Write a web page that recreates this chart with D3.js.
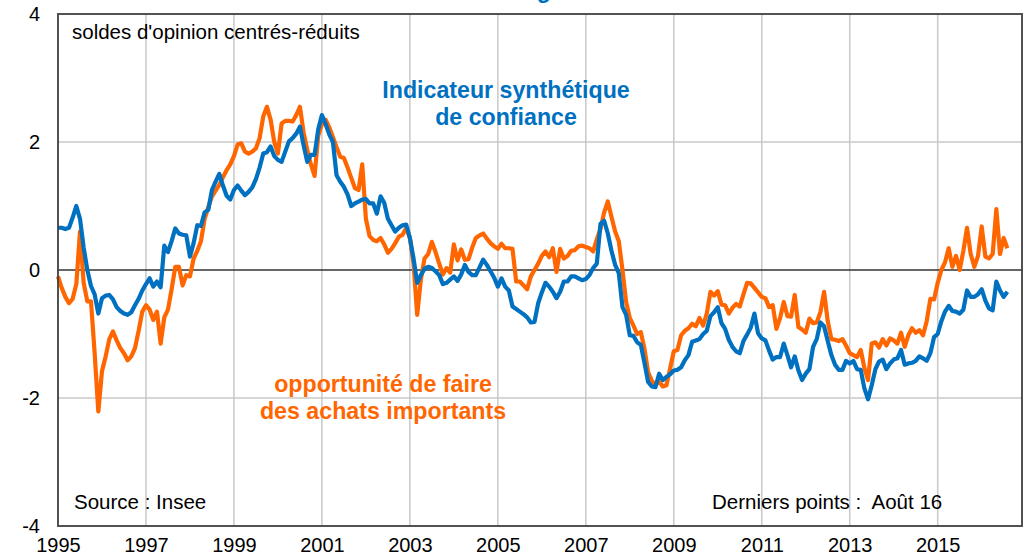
<!DOCTYPE html>
<html><head><meta charset="utf-8">
<script src="https://cdn.jsdelivr.net/npm/d3@7"></script>
<style>
body{margin:0;background:#fff;}
svg text{font-family:"Liberation Sans",Arial,sans-serif;}
</style>
</head><body>
<svg id="chart" width="1033" height="557"></svg>
<script>
// ---- categories ----
const firstYear = 1995, firstMonthIndex = 0;   // janvier 1995
const xTickYears = [1995,1997,1999,2001,2003,2005,2007,2009,2011,2013,2015];
const xGridYears = [1997,1999,2001,2003,2005,2007,2009,2011,2013,2015];
const yTicks = [-4,-2,0,2,4];
const yGrid = [-2,2];

// ---- series (monthly, Jan 1995 - Aug 2016) ----
const confiance = [
0.66,0.66,0.64,0.66,0.82,1.00,0.80,0.35,0.00,-0.25,
-0.38,-0.68,-0.44,-0.40,-0.39,-0.46,-0.58,-0.64,-0.68,-0.70,
-0.66,-0.55,-0.45,-0.32,-0.22,-0.13,-0.26,-0.18,-0.27,0.38,
0.28,0.45,0.65,0.57,0.55,0.54,0.21,0.42,0.70,0.69,
0.90,0.94,1.25,1.38,1.50,1.32,1.16,1.10,1.25,1.32,
1.24,1.17,1.22,1.29,1.42,1.60,1.82,1.84,1.93,1.78,
1.72,1.69,1.85,2.01,2.06,2.13,2.24,1.95,1.69,1.80,
1.80,2.20,2.42,2.28,2.12,2.00,1.48,1.38,1.30,1.18,
1.00,1.04,1.07,1.10,1.11,1.04,1.04,0.88,1.15,1.05,
0.80,0.70,0.60,0.66,0.70,0.71,0.50,0.18,-0.20,-0.08,
0.02,0.05,0.03,-0.02,-0.08,-0.22,-0.20,-0.15,-0.10,-0.17,
-0.07,0.08,-0.03,-0.08,-0.08,0.04,0.16,0.08,-0.02,-0.12,
-0.26,-0.13,-0.26,-0.32,-0.57,-0.61,-0.65,-0.69,-0.74,-0.82,
-0.81,-0.52,-0.35,-0.20,-0.26,-0.34,-0.44,-0.34,-0.18,-0.18,
-0.10,-0.10,-0.13,-0.16,-0.14,-0.08,0.03,0.10,0.72,0.77,
0.57,0.30,0.08,-0.05,-0.58,-0.70,-1.02,-1.03,-1.13,-1.17,
-1.45,-1.75,-1.82,-1.83,-1.62,-1.72,-1.67,-1.63,-1.57,-1.56,
-1.52,-1.41,-1.33,-1.12,-1.10,-1.08,-1.00,-0.95,-0.72,-0.66,
-0.58,-0.83,-0.92,-1.09,-1.20,-1.27,-1.30,-1.11,-1.01,-0.90,
-0.68,-0.99,-1.07,-1.10,-1.26,-1.40,-1.36,-1.36,-1.15,-1.33,
-1.52,-1.35,-1.57,-1.72,-1.62,-1.55,-1.20,-1.08,-0.82,-0.88,
-1.11,-1.33,-1.48,-1.56,-1.56,-1.42,-1.46,-1.42,-1.55,-1.56,
-1.85,-2.02,-1.80,-1.55,-1.43,-1.40,-1.55,-1.46,-1.40,-1.38,
-1.25,-1.48,-1.46,-1.45,-1.42,-1.35,-1.38,-1.42,-1.30,-1.05,
-1.00,-0.80,-0.65,-0.56,-0.64,-0.65,-0.68,-0.62,-0.32,-0.42,
-0.42,-0.38,-0.30,-0.48,-0.60,-0.63,-0.18,-0.32,-0.42,-0.34
];
const achats = [
-0.10,-0.28,-0.42,-0.52,-0.45,-0.22,0.60,-0.20,-0.49,-0.49,
-1.30,-2.21,-1.58,-1.35,-1.08,-0.96,-1.10,-1.22,-1.30,-1.41,
-1.35,-1.22,-0.95,-0.65,-0.55,-0.62,-0.78,-0.65,-1.15,-0.74,
-0.62,-0.30,0.05,0.05,-0.24,-0.08,-0.10,0.18,0.30,0.45,
0.80,0.98,1.15,1.24,1.33,1.45,1.56,1.65,1.78,1.96,
1.98,1.85,1.82,1.85,1.90,2.06,2.40,2.55,2.35,2.00,
1.82,2.29,2.33,2.33,2.32,2.42,2.55,2.15,1.88,1.65,
1.47,2.10,2.28,2.35,2.23,2.08,1.92,1.77,1.75,1.60,
1.44,1.28,1.25,1.65,0.80,0.53,0.47,0.45,0.50,0.40,
0.27,0.33,0.42,0.52,0.55,0.66,0.50,0.10,-0.70,-0.15,
0.18,0.25,0.44,0.28,0.10,-0.07,0.03,-0.04,0.40,0.15,
0.32,0.16,0.17,0.35,0.50,0.54,0.57,0.49,0.42,0.37,
0.33,0.41,0.34,0.34,0.33,-0.18,-0.18,-0.24,-0.30,-0.10,
0.00,0.10,0.22,0.29,0.20,0.34,-0.03,0.33,0.18,0.22,
0.30,0.31,0.37,0.38,0.36,0.34,0.29,0.48,0.64,0.90,
1.07,0.83,0.60,0.45,0.00,-0.50,-0.75,-0.87,-1.00,-0.97,
-1.23,-1.60,-1.73,-1.80,-1.74,-1.82,-1.80,-1.54,-1.27,-1.25,
-1.02,-0.95,-0.91,-0.84,-0.88,-0.75,-0.87,-0.68,-0.34,-0.40,
-0.33,-0.54,-0.55,-0.68,-0.59,-0.53,-0.57,-0.38,-0.20,-0.21,
-0.28,-0.35,-0.42,-0.44,-0.58,-0.55,-0.92,-0.75,-0.50,-0.72,
-0.73,-0.39,-0.89,-0.93,-0.98,-0.76,-0.83,-0.82,-0.66,-0.34,
-0.80,-1.08,-1.09,-1.11,-1.08,-1.18,-1.30,-1.33,-1.36,-1.25,
-1.53,-1.72,-1.15,-1.13,-1.21,-1.08,-1.18,-1.07,-1.10,-1.15,
-0.98,-1.20,-1.02,-0.91,-0.98,-0.94,-1.02,-0.80,-0.45,-0.46,
-0.20,0.00,0.12,0.34,0.05,0.22,0.00,0.30,0.66,0.25,
0.05,0.22,0.68,0.21,0.18,0.25,0.95,0.25,0.50,0.34
];
// month positions as decimal years
const months = confiance.map((_, i) => firstYear + (firstMonthIndex + i) / 12);

// ---- layout ----
const svg = d3.select("#chart");
const m = {left: 58, right: 1022, top: 14, bottom: 526};
const x = d3.scaleLinear().domain([1995, 2016 + 11/12]).range([m.left, m.right]);
const y = d3.scaleLinear().domain([-4, 4]).range([m.bottom, m.top]);

// title (mostly cut off at top, as in the source image)
svg.append("text").attr("x", 313).attr("y", -2)
  .attr("fill", "#0070C0").attr("font-weight", "bold").attr("font-size", 23)
  .text("Confiance des ménages");

// grid
svg.append("g").selectAll("line").data(xGridYears).join("line")
  .attr("x1", d => x(d)).attr("x2", d => x(d))
  .attr("y1", m.top).attr("y2", m.bottom)
  .attr("stroke", "#c8c8c8").attr("stroke-width", 1.5);
svg.append("g").selectAll("line").data(yGrid).join("line")
  .attr("x1", m.left).attr("x2", m.right)
  .attr("y1", d => y(d)).attr("y2", d => y(d))
  .attr("stroke", "#c8c8c8").attr("stroke-width", 1.5);

// zero line
svg.append("line").attr("x1", m.left).attr("x2", m.right)
  .attr("y1", y(0)).attr("y2", y(0))
  .attr("stroke", "#333").attr("stroke-width", 1.5);

// lines
const line = d3.line().x((d, i) => x(months[i])).y(d => y(d)).curve(d3.curveLinear);
svg.append("path").datum(achats).attr("d", line)
  .attr("fill", "none").attr("stroke", "#FF6600").attr("stroke-width", 4.2)
  .attr("stroke-linejoin", "round");
svg.append("path").datum(confiance).attr("d", line)
  .attr("fill", "none").attr("stroke", "#0070C0").attr("stroke-width", 4.2)
  .attr("stroke-linejoin", "round");

// frame
svg.append("rect").attr("x", m.left).attr("y", m.top)
  .attr("width", m.right - m.left).attr("height", m.bottom - m.top)
  .attr("fill", "none").attr("stroke", "#404040").attr("stroke-width", 1.8);

// axes
const xAxis = d3.axisBottom(x).tickValues(xTickYears).tickFormat(d => String(d)).tickSize(0).tickPadding(0);
const gx = svg.append("g").attr("transform", `translate(0,${m.bottom})`).call(xAxis);
gx.select(".domain").remove();
gx.selectAll("text").attr("font-size", 20).attr("fill", "#000").attr("dy", null).attr("y", 26)
  .attr("font-family", "'Liberation Sans', Arial, sans-serif");

const yAxis = d3.axisLeft(y).tickValues(yTicks).tickFormat(d => String(d)).tickSize(0).tickPadding(18);
const gy = svg.append("g").attr("transform", `translate(${m.left},0)`).call(yAxis);
gy.select(".domain").remove();
gy.selectAll("text").attr("font-size", 20).attr("fill", "#000")
  .attr("font-family", "'Liberation Sans', Arial, sans-serif");

// annotations
svg.append("text").attr("x", 72).attr("y", 39).attr("font-size", 20.5).attr("fill", "#000")
  .text("soldes d'opinion centrés-réduits");
svg.append("text").attr("x", 74).attr("y", 509).attr("font-size", 20.5).attr("fill", "#000")
  .text("Source : Insee");
svg.append("text").attr("x", 712).attr("y", 509).attr("font-size", 20.5).attr("fill", "#000")
  .attr("xml:space", "preserve").style("white-space", "pre")
  .text("Derniers points :  Août 16");

const blueLab = svg.append("text").attr("text-anchor", "middle").attr("fill", "#0070C0")
  .attr("font-weight", "bold").attr("font-size", 23.2);
blueLab.append("tspan").attr("x", 506).attr("y", 98).text("Indicateur synthétique");
blueLab.append("tspan").attr("x", 506).attr("y", 125).text("de confiance");

const orLab = svg.append("text").attr("text-anchor", "middle").attr("fill", "#FF6600")
  .attr("font-weight", "bold").attr("font-size", 23.2);
orLab.append("tspan").attr("x", 383).attr("y", 392).text("opportunité de faire");
orLab.append("tspan").attr("x", 383).attr("y", 419).text("des achats importants");
</script>
</body></html>
